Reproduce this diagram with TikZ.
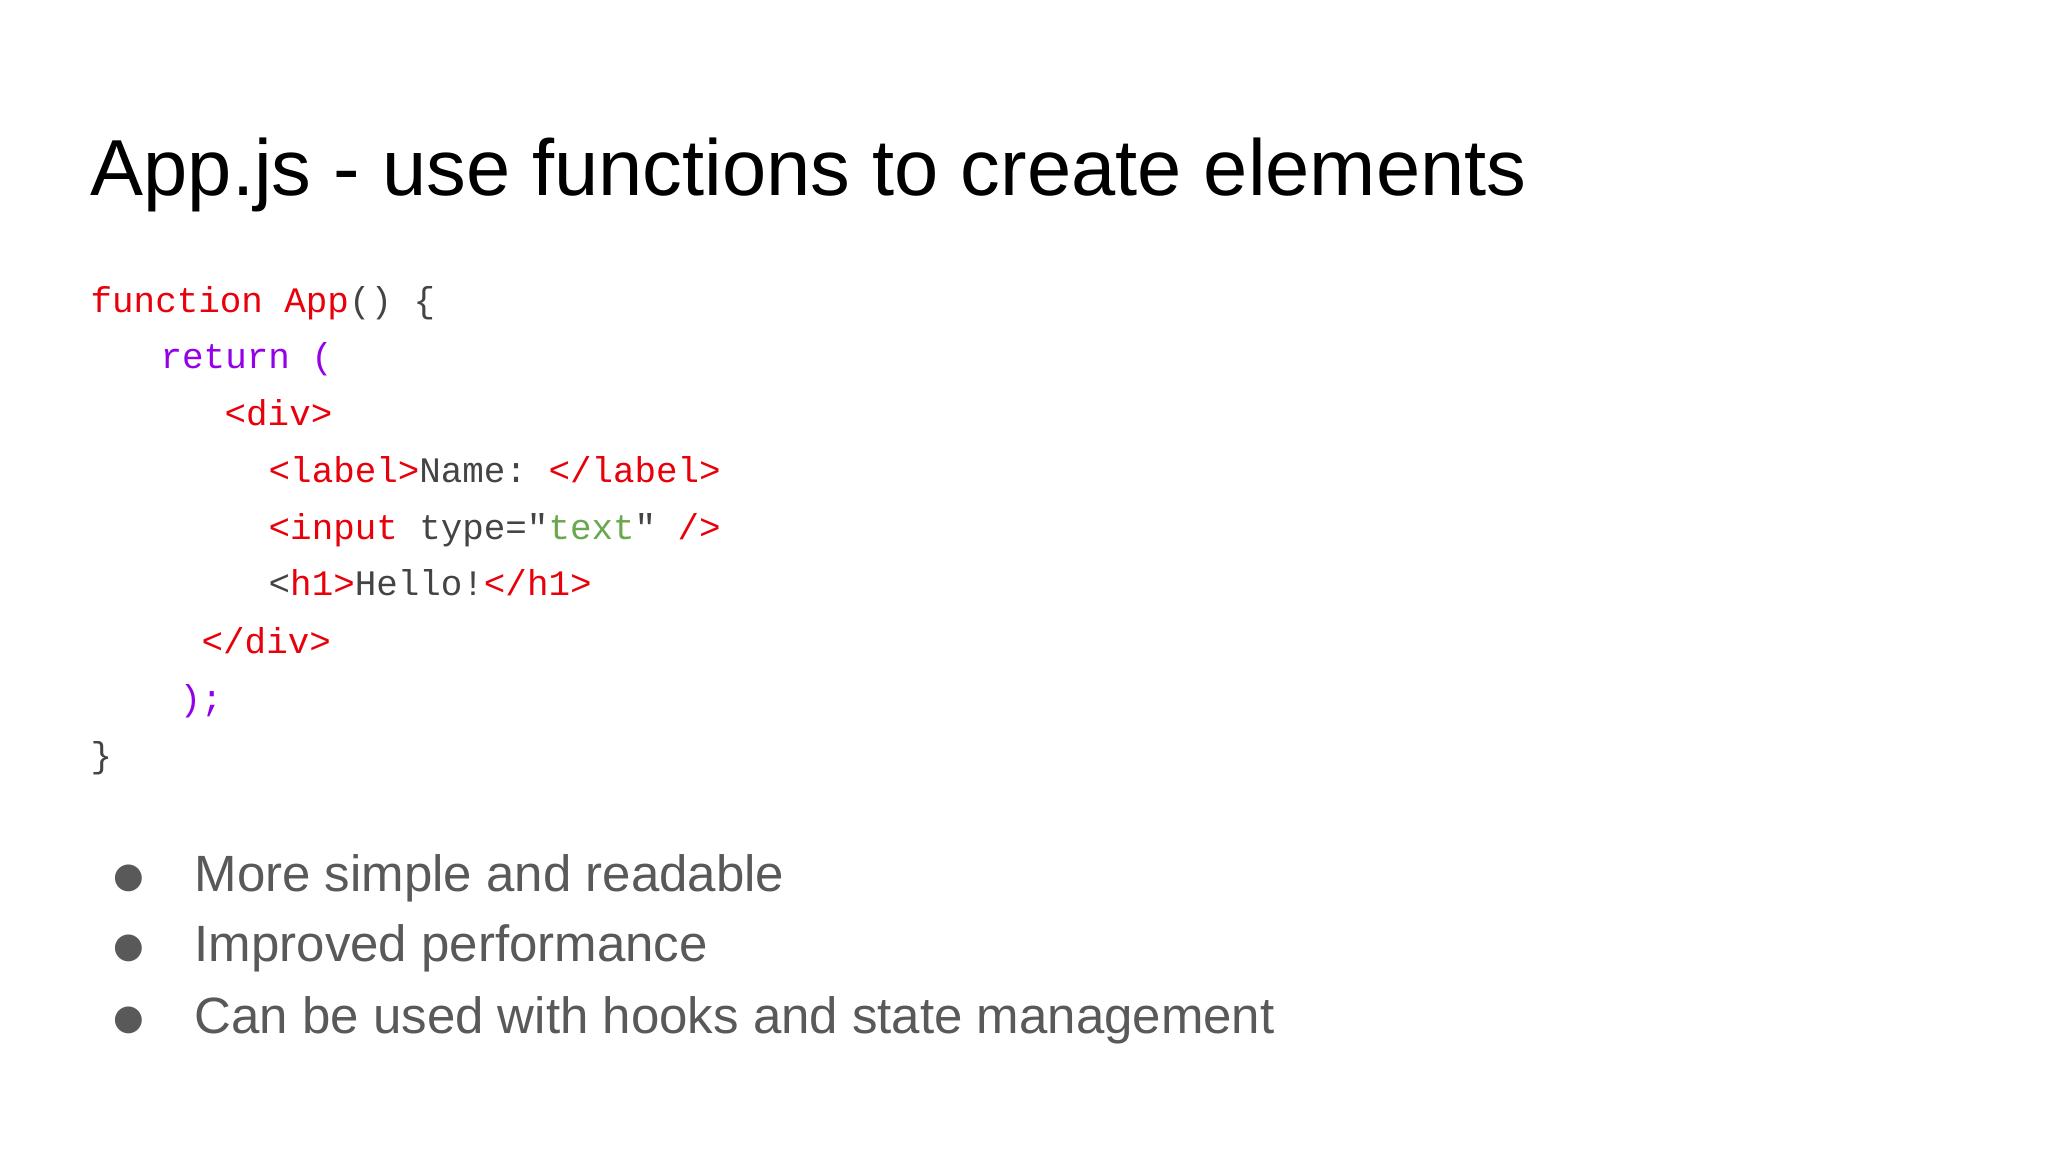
\documentclass[tikz,border=0pt]{standalone}
\usepackage{fontspec}
\setmainfont{Liberation Sans}
\setmonofont{Liberation Mono}
\newfontfamily\sym{DejaVu Sans}
\definecolor{kred}{HTML}{E8000B}
\definecolor{kpur}{HTML}{9400E8}
\definecolor{kgrn}{HTML}{6AA84F}
\definecolor{kgry}{HTML}{444444}
\definecolor{bgry}{HTML}{595959}
\tikzset{code/.style={anchor=base west,inner sep=0,font=\ttfamily\fontsize{10.2pt}{12pt}\selectfont,text=kgry},
bul/.style={anchor=base west,inner sep=0,font=\fontsize{14.5pt}{17pt}\selectfont,text=bgry}}
\begin{document}
\begin{tikzpicture}[x=0.01cm,y=-0.01cm]
\useasboundingbox[fill=white] (0,0) rectangle (2048,1152);
\node[anchor=base west,inner sep=0,font=\fontsize{22.6pt}{26pt}\selectfont] (title) at (90,196) {App.js - use functions to create elements};
\node[code] (l1) at (90,313) {\textcolor{kred}{function App}() \{};
\node[code] (l2) at (160,369) {\textcolor{kpur}{return (}};
\node[code] (l3) at (224,426) {\textcolor{kred}{<div>}};
\node[code] (l4) at (268,483) {\textcolor{kred}{<label>}Name: \textcolor{kred}{</label>}};
\node[code] (l5) at (268,540) {\textcolor{kred}{<input} type="\textcolor{kgrn}{text}" \textcolor{kred}{/>}};
\node[code] (l6) at (268,596) {<\textcolor{kred}{h1>}Hello!\textcolor{kred}{</h1>}};
\node[code] (l7) at (201,653) {\textcolor{kred}{</div>}};
\node[code] (l8) at (179,710) {\textcolor{kpur}{);}};
\node[code] (l9) at (90,767) {\}};
\foreach \y/\t [count=\i] in {891/More simple and readable,961/Improved performance,1033/Can be used with hooks and state management}{
  \node[bul] (b\i) at (194,\y) {\t};
  \node[bul,font=\sym\fontsize{10pt}{12pt}\selectfont] (d\i) at (113,\y-4) {●};
}
\end{tikzpicture}
\end{document}
